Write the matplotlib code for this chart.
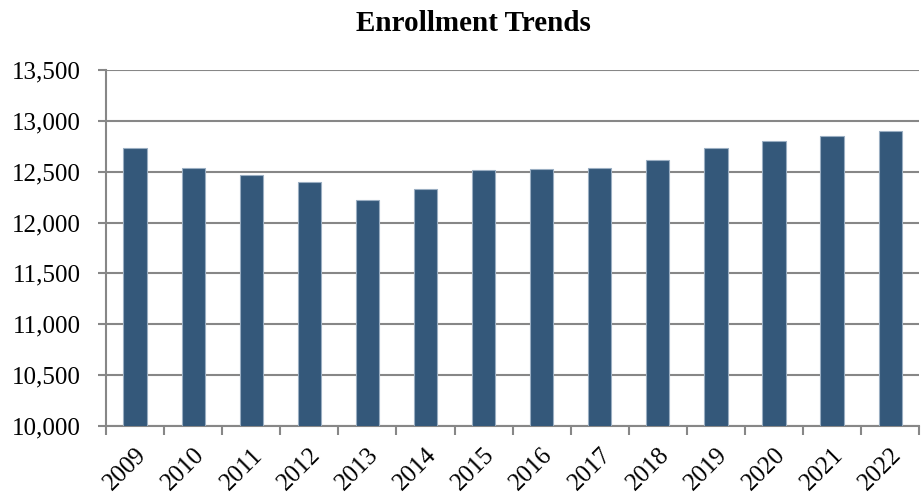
import numpy as np
import matplotlib.pyplot as plt
from matplotlib.ticker import FuncFormatter, MultipleLocator

years = ['2009', '2010', '2011', '2012', '2013', '2014', '2015',
         '2016', '2017', '2018', '2019', '2020', '2021', '2022']
enrollment = [12734, 12532, 12465, 12402, 12223, 12330, 12519,
              12522, 12532, 12612, 12731, 12801, 12854, 12903]

plt.rcParams['font.family'] = ['Liberation Serif', 'DejaVu Serif']
grid_col = '#878787'

fig = plt.figure(figsize=(9.22, 4.96), dpi=100)
ax = fig.add_axes([0.115, 0.141, 0.882, 0.718])

x = np.arange(len(years))
ax.bar(x, enrollment, width=0.4, color='#34587a', edgecolor='#9aaec2',
       linewidth=0.8, zorder=3)

ax.set_ylim(10000, 13500)
ax.set_xlim(-0.5, len(years) - 0.5)
ax.yaxis.set_major_locator(MultipleLocator(500))
ax.yaxis.set_major_formatter(FuncFormatter(lambda v, p: f'{v:,.0f}'))
ax.grid(axis='y', color=grid_col, linewidth=1.5, zorder=0)

# labels centred under bars, tick marks on the category boundaries
ax.set_xticks(x)
ax.set_xticklabels(years, rotation=45, ha='right', va='top',
                   rotation_mode='anchor')
ax.set_xticks(np.arange(-0.5, len(years), 1.0), minor=True)
ax.tick_params(axis='x', which='major', length=0, labelsize=18, pad=13)
ax.tick_params(axis='x', which='minor', length=6.5, width=1.5, color=grid_col)
ax.tick_params(axis='y', length=6, width=1.5, color=grid_col, labelsize=18,
               pad=12)

for s in ['top', 'right']:
    ax.spines[s].set_visible(False)
for s in ['left', 'bottom']:
    ax.spines[s].set_color(grid_col)
    ax.spines[s].set_linewidth(1.5)

fig.suptitle('Enrollment Trends', fontsize=21, fontweight='bold',
             x=0.514, y=0.98)

fig.savefig('out.png', dpi=100)
